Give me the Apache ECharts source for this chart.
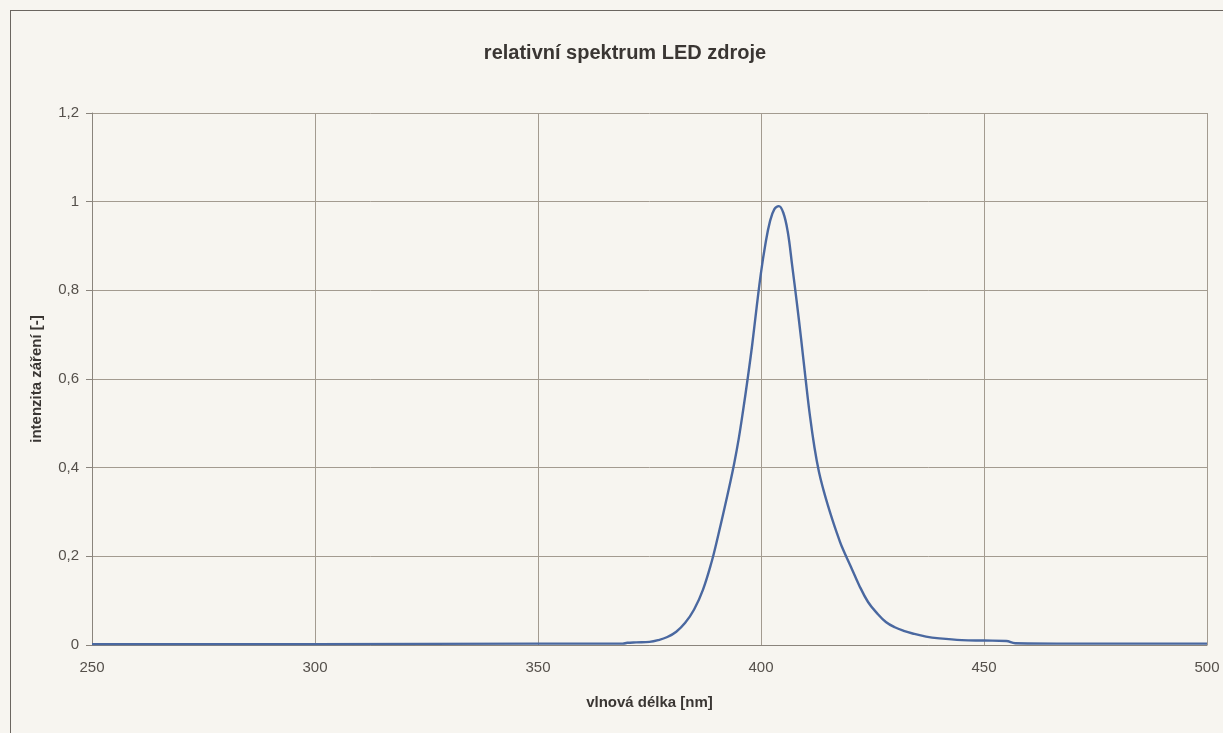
<!DOCTYPE html>
<html>
<head>
<meta charset="utf-8">
<script src="https://cdn.jsdelivr.net/npm/echarts@6/dist/echarts.min.js"></script>
<style>
  html, body { margin: 0; padding: 0; background: #f7f5f0; }
  #frame { position: absolute; left: 10px; top: 10px; width: 1240px; height: 760px; border: 1px solid #6b6660; }
  #main { position: absolute; left: 0; top: 0; width: 1223px; height: 733px; }
</style>
</head>
<body>
<div id="frame"></div>
<div id="main"></div>
<script>
// vlnová délka [nm]
var wavelength = [250, 300, 350, 365, 369, 370, 372, 375, 377, 379, 381, 383, 385, 387, 389, 390,
  391, 392, 393, 394, 395, 396, 397, 398, 399, 400, 401, 402, 403, 404, 405, 406, 407, 408,
  409, 410, 411, 412, 413, 414, 415, 416, 417, 418, 420, 422, 424, 426, 428, 430, 432, 434,
  437, 440, 445, 450, 455, 457, 470, 500];
// intenzita záření [-]
var intensity = [0.002, 0.002, 0.003, 0.003, 0.003, 0.005, 0.006, 0.007, 0.011, 0.018, 0.03,
  0.05, 0.08, 0.125, 0.19, 0.23, 0.273, 0.317, 0.362, 0.41, 0.465, 0.53, 0.6, 0.675, 0.76,
  0.84, 0.905, 0.955, 0.983, 0.99, 0.975, 0.932, 0.855, 0.775, 0.69, 0.6, 0.515, 0.445, 0.39,
  0.35, 0.315, 0.283, 0.253, 0.225, 0.18, 0.135, 0.097, 0.072, 0.052, 0.04, 0.032, 0.026,
  0.019, 0.015, 0.011, 0.01, 0.009, 0.004, 0.003, 0.003];

var points = [];
for (var i = 0; i < wavelength.length; i++) {
  points.push([wavelength[i], intensity[i]]);
}

var chart = echarts.init(document.getElementById('main'));
var textFont = '"Liberation Sans", Arial, sans-serif';

var option = {
  animation: false,
  title: {
    text: 'relativní spektrum LED zdroje',
    left: 620,
    top: 38,
    textAlign: 'center',
    textStyle: { fontFamily: textFont, fontSize: 20, fontWeight: 'bold', color: '#3a3633' }
  },
  grid: { left: 92, right: 16, top: 113, bottom: 88 },
  xAxis: {
    type: 'value',
    min: 250,
    max: 500,
    interval: 50,
    name: 'vlnová délka [nm]',
    nameLocation: 'middle',
    nameGap: 50,
    nameTextStyle: { fontFamily: textFont, fontSize: 15, fontWeight: 'bold', color: '#3a3633' },
    axisLine: { lineStyle: { color: '#8a847c' } },
    axisTick: { show: false },
    axisLabel: { fontFamily: textFont, fontSize: 15, color: '#55504b', margin: 15 },
    splitLine: { lineStyle: { color: '#a39b90', width: 1 } }
  },
  yAxis: {
    type: 'value',
    min: 0,
    max: 1.2,
    interval: 0.2,
    name: 'intenzita záření [-]',
    nameLocation: 'middle',
    nameGap: 48,
    nameTextStyle: { fontFamily: textFont, fontSize: 15, fontWeight: 'bold', color: '#3a3633' },
    axisLine: { show: true, lineStyle: { color: '#8a847c' } },
    axisTick: { show: true, length: 6, lineStyle: { color: '#8a847c' } },
    axisLabel: {
      fontFamily: textFont, fontSize: 15, color: '#55504b', margin: 13,
      formatter: function (v) { return String(Math.round(v * 10) / 10).replace('.', ','); }
    },
    splitLine: { lineStyle: { color: '#a39b90', width: 1 } }
  },
  series: [{
    type: 'line',
    data: points,
    smooth: 0.4,
    symbol: 'none',
    lineStyle: { color: '#4a68a0', width: 2.4 }
  }]
};

chart.setOption(option);
</script>
</body>
</html>
